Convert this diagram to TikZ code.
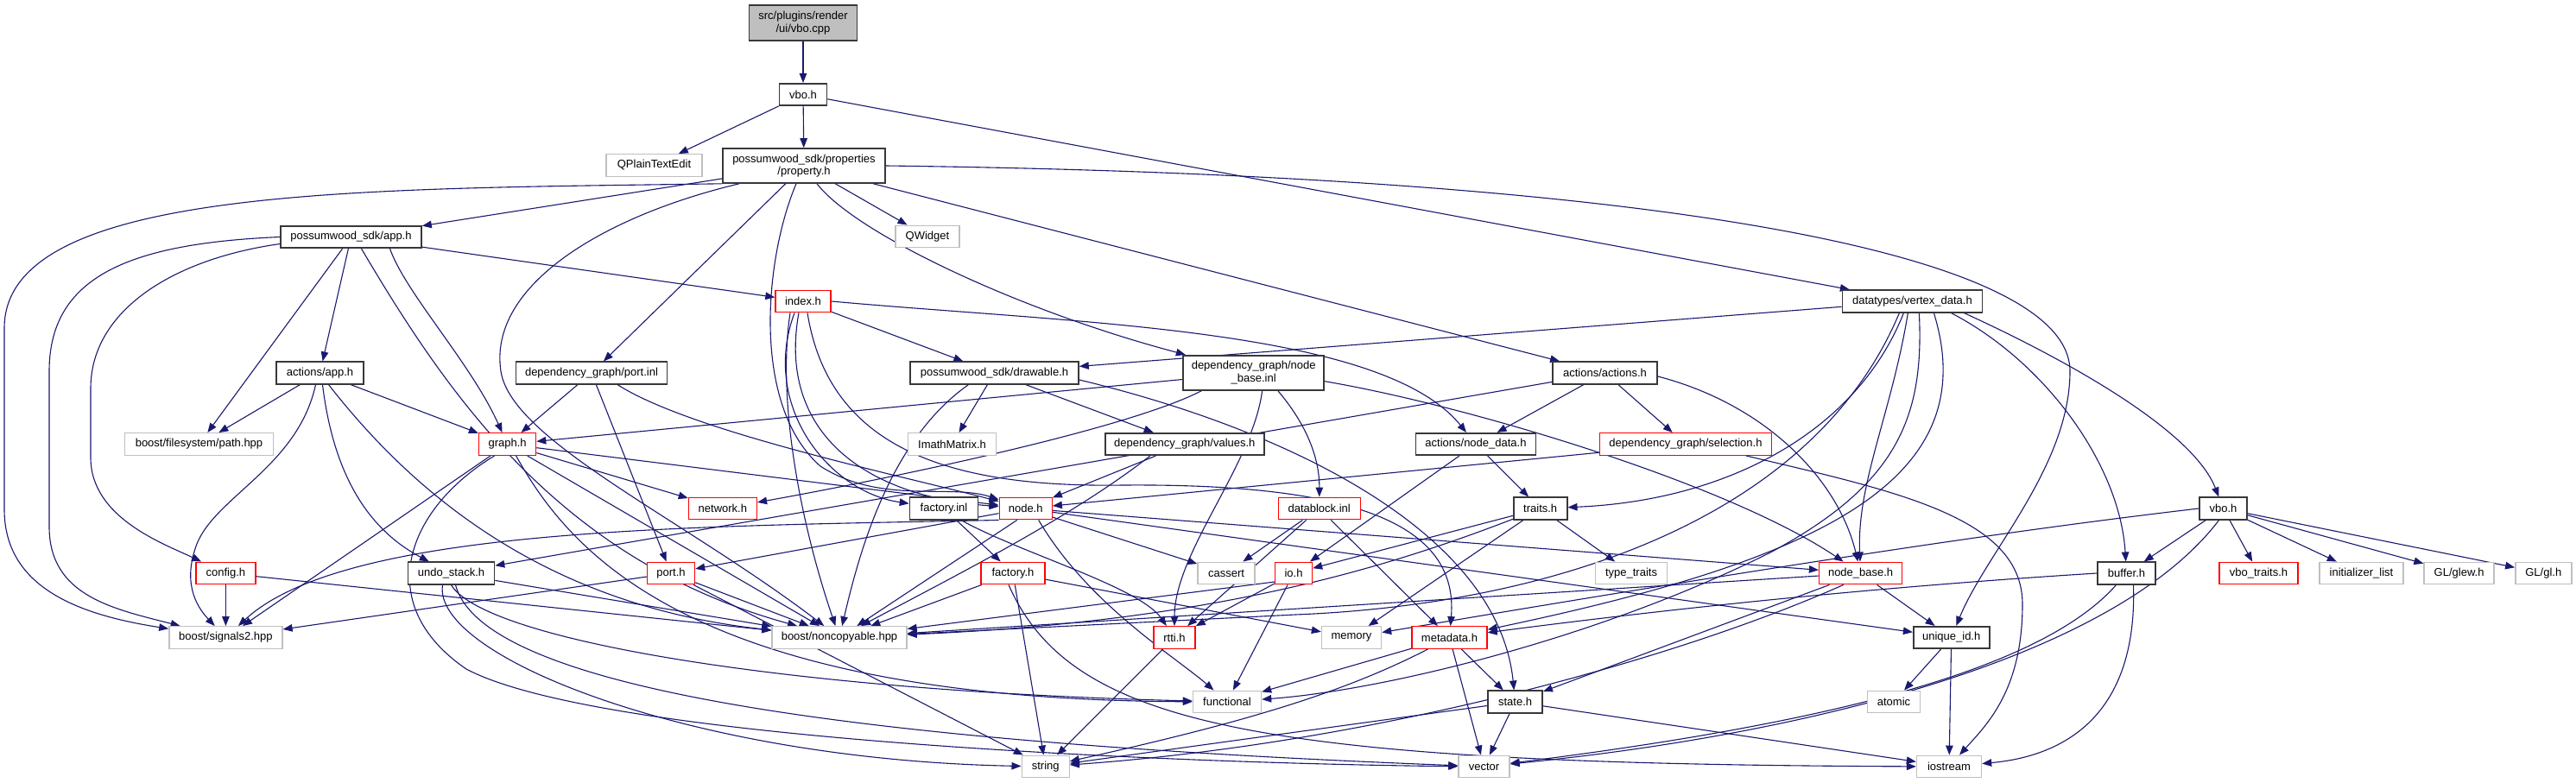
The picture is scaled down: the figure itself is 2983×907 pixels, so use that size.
\documentclass[tikz,border=0pt]{standalone}
\usepackage{fontspec}
\setmainfont{Liberation Sans}
\usetikzlibrary{arrows.meta}
\definecolor{edgec}{HTML}{191970}
\definecolor{extc}{HTML}{BFBFBF}
\pgfdeclarelayer{bg}
\pgfsetlayers{bg,main}
\tikzset{
  nd/.style={draw=black!78, line width=1.6pt, fill=white, minimum height=25.5pt, inner sep=0pt, align=center, font=\fontsize{13}{14.5}\selectfont},
  ext/.style={nd, draw=extc, line width=1.4pt},
  trn/.style={nd, draw=red, line width=1.4pt},
  rootn/.style={nd, fill=extc},
  ed/.style={draw=edgec, line width=1.1pt, -{Triangle[length=11pt,width=8.5pt]}},
}
\begin{document}
\begin{tikzpicture}[x=1pt,y=-1pt]
\useasboundingbox (0,0) rectangle (2983,907);
% ---------------- nodes
\node[rootn, minimum width=125pt, minimum height=41pt] (vbocpp) at (930,26.5) {src/plugins/render\\/ui/vbo.cpp};
\node[nd, minimum width=55pt] (vboh) at (930,109.5) {vbo.h};
\node[ext, minimum width=111pt] (qplain) at (757.5,191.5) {QPlainTextEdit};
\node[nd, minimum width=188pt, minimum height=40pt] (prop) at (931,192) {possumwood\_sdk/properties\\/property.h};
\node[ext, minimum width=74pt] (qwidget) at (1074,274) {QWidget};
\node[nd, minimum width=163pt] (app) at (406.5,274.5) {possumwood\_sdk/app.h};
\node[nd, minimum width=162pt] (vdata) at (2214.4,349) {datatypes/vertex\_data.h};
\node[trn, minimum width=64pt] (index) at (930,349) {index.h};
\node[nd, minimum width=101pt] (aapp) at (370.5,432) {actions/app.h};
\node[nd, minimum width=175pt] (portinl) at (685,432) {dependency\_graph/port.inl};
\node[nd, minimum width=195pt] (draw) at (1151.5,432) {possumwood\_sdk/drawable.h};
\node[nd, minimum width=163pt, minimum height=40pt] (nbinl) at (1451.7,431.7) {dependency\_graph/node\\\_base.inl};
\node[nd, minimum width=121pt] (actions) at (1858.5,432) {actions/actions.h};
\node[ext, minimum width=172pt] (path) at (230.5,514.5) {boost/filesystem/path.hpp};
\node[trn, minimum width=66pt] (graph) at (587.6,514.5) {graph.h};
\node[ext, minimum width=102pt] (imath) at (1102.5,514.5) {ImathMatrix.h};
\node[nd, minimum width=184pt] (values) at (1371.8,514.5) {dependency\_graph/values.h};
\node[nd, minimum width=139pt] (nodedata) at (1709,514.5) {actions/node\_data.h};
\node[trn, minimum width=199pt] (selection) at (1952,514.5) {dependency\_graph/selection.h};
\node[trn, minimum width=79pt] (network) at (836.9,589) {network.h};
\node[nd, minimum width=79pt] (factinl) at (1093,589) {factory.inl};
\node[trn, minimum width=61pt] (node) at (1187.7,589) {node.h};
\node[trn, minimum width=95pt] (datablock) at (1527.7,589) {datablock.inl};
\node[nd, minimum width=62pt] (traits) at (1783.7,589) {traits.h};
\node[nd, minimum width=55pt] (vbo2) at (2574.5,589) {vbo.h};
\node[trn, minimum width=69pt] (config) at (261.4,664) {config.h};
\node[nd, minimum width=100pt] (undo) at (522.5,664) {undo\_stack.h};
\node[trn, minimum width=55pt] (porth) at (777,664) {port.h};
\node[trn, minimum width=74pt] (facth) at (1173,664) {factory.h};
\node[ext, minimum width=66pt] (cassert) at (1420,664) {cassert};
\node[trn, minimum width=43pt] (io) at (1498,664) {io.h};
\node[ext, minimum width=83pt] (ttraits) at (1889,664) {type\_traits};
\node[trn, minimum width=96pt] (nbh) at (2154.6,664) {node\_base.h};
\node[nd, minimum width=67pt] (buffer) at (2462.5,664) {buffer.h};
\node[trn, minimum width=91pt] (vbotraits) at (2615.5,664) {vbo\_traits.h};
\node[ext, minimum width=97pt] (initlist) at (2734.5,664) {initializer\_list};
\node[ext, minimum width=81pt] (glew) at (2847.6,664) {GL/glew.h};
\node[ext, minimum width=65pt] (gl) at (2945.3,664) {GL/gl.h};
\node[ext, minimum width=131pt] (signals) at (261.4,738.5) {boost/signals2.hpp};
\node[ext, minimum width=156pt] (noncopy) at (972,738.5) {boost/noncopyable.hpp};
\node[trn, minimum width=48pt] (rtti) at (1360,738.5) {rtti.h};
\node[ext, minimum width=69pt] (memory) at (1565,738.5) {memory};
\node[trn, minimum width=87pt] (metadata) at (1678.5,738.5) {metadata.h};
\node[nd, minimum width=88pt] (uid) at (2259.7,738.5) {unique\_id.h};
\node[ext, minimum width=79pt] (functional) at (1421,813) {functional};
\node[nd, minimum width=63pt] (state) at (1754.6,813) {state.h};
\node[ext, minimum width=61pt] (atomic) at (2193,813) {atomic};
\node[ext, minimum width=55pt] (string) at (1210.7,888) {string};
\node[ext, minimum width=59pt] (vector) at (1718.5,888) {vector};
\node[ext, minimum width=75pt] (iostream) at (2257,888) {iostream};
% ---------------- edges
\begin{pgfonlayer}{bg}
\fill[white] (0,0) rectangle (2983,907);
% vbo.cpp / vbo.h
\draw[ed] (vbocpp) -- (vboh);
\draw[ed] (vboh) -- (qplain);
\draw[ed] (vboh) -- (prop);
\draw[ed] (vboh) -- (vdata);
% property.h
\draw[ed] (prop) -- (qwidget);
\draw[ed] (prop) -- (app);
\draw[ed] (prop.south west) .. controls (420,219) and (5,215) .. (5,380) -- (5,590) .. controls (5,680) and (90,712) .. (signals);
\draw[ed] (prop.east) .. controls (1900,203) and (2397,290) .. (2397,430) .. controls (2397,540) and (2300,640) .. (uid);
\draw[ed] (prop) -- (portinl);
\draw[ed] ([xshift=-9pt]prop.south) .. controls (885,300) and (870,470) .. (950,540) .. controls (1020,585) and (1100,560) .. (node);
\draw[ed] ([xshift=15pt]prop.south) .. controls (990,270) and (1180,360) .. (nbinl);
\draw[ed] (prop) -- (actions);
\draw[ed] ([xshift=-75pt]prop.south) .. controls (700,250) and (565,330) .. (580,430) .. controls (592,510) and (790,600) .. (noncopy);
% app.h
\draw[ed] (app) -- (index);
\draw[ed] (app) -- (aapp);
\draw[ed] (app) -- (path);
\draw[ed] ([xshift=45pt]app.south) .. controls (470,340) and (545,420) .. (graph);
\draw[ed] ([xshift=12pt]app.south) .. controls (520,460) and (650,650) .. (noncopy);
\draw[ed] (app.west) .. controls (150,282) and (57,320) .. (57,430) -- (57,610) .. controls (57,690) and (130,705) .. (signals);
\draw[ed] ([yshift=-8pt]app.west) .. controls (200,300) and (105,360) .. (105,450) -- (105,530) .. controls (105,600) and (190,630) .. (config);
% actions/app.h
\draw[ed] (aapp) -- (path);
\draw[ed] (aapp) -- (graph);
\draw[ed] ([xshift=-5pt]aapp.south) .. controls (345,540) and (250,575) .. (228,630) .. controls (212,672) and (225,700) .. (signals);
\draw[ed] ([xshift=3pt]aapp.south) .. controls (385,540) and (420,610) .. (undo);
\draw[ed] ([xshift=10pt]aapp.south) .. controls (470,560) and (620,700) .. (noncopy);
% port.inl
\draw[ed] (portinl) -- (graph);
\draw[ed] (portinl) -- (porth);
\draw[ed] ([xshift=30pt]portinl.south) .. controls (800,500) and (1040,550) .. (node);
% graph.h
\draw[ed] (graph) -- (signals);
\draw[ed] (graph) -- (noncopy);
\draw[ed] (graph) -- (network);
\draw[ed] (graph) -- (node);
\draw[ed] ([xshift=-15pt]graph.south) .. controls (470,590) and (430,700) .. (540,775) .. controls (700,860) and (1400,885) .. (vector);
\draw[ed] ([xshift=10pt]graph.south) .. controls (660,640) and (800,810) .. (functional);
% undo_stack.h
\draw[ed] (undo) -- (noncopy);
\draw[ed] ([xshift=-10pt]undo.south) .. controls (500,760) and (800,880) .. (string);
\draw[ed] (undo.south) .. controls (560,740) and (900,800) .. (functional);
\draw[ed] ([xshift=5pt]undo.south) .. controls (560,800) and (1000,860) .. (vector);
% port.h
\draw[ed] (porth) -- (signals);
\draw[ed] (porth) -- (noncopy);
\draw[ed] (porth) -- (string);
% index.h
\draw[ed] (index) -- (draw);
\draw[ed] (index.east) .. controls (1250,375) and (1600,380) .. (nodedata);
\draw[ed] ([xshift=-10pt]index.south) .. controls (880,470) and (960,570) .. (factinl);
\draw[ed] ([xshift=-5pt]index.south) .. controls (900,500) and (1000,575) .. (node);
\draw[ed] ([xshift=-15pt]index.south) .. controls (900,460) and (925,600) .. (noncopy);
\draw[ed] ([xshift=5pt]index.south) .. controls (960,520) and (1100,565) .. (1300,562) .. controls (1550,560) and (1690,600) .. (metadata);
% drawable.h
\draw[ed] (draw) -- (imath);
\draw[ed] (draw) -- (values);
\draw[ed] ([xshift=-30pt]draw.south) .. controls (1030,510) and (995,640) .. (noncopy);
\draw[ed] ([yshift=-8pt]draw.east) .. controls (1500,500) and (1735,620) .. (state);
% node_base.inl
\draw[ed] (nbinl) -- (graph);
\draw[ed] ([xshift=-60pt]nbinl.south) .. controls (1300,500) and (1000,560) .. (network);
\draw[ed] ([xshift=28pt]nbinl.south) .. controls (1520,500) and (1528,540) .. (datablock);
\draw[ed] ([xshift=10pt]nbinl.south) .. controls (1450,540) and (1360,640) .. (rtti);
\draw[ed] ([yshift=-10pt]nbinl.east) .. controls (1700,470) and (2000,560) .. (nbh);
% actions.h
\draw[ed] (actions) -- (nodedata);
\draw[ed] (actions) -- (selection);
\draw[ed] (actions) -- (undo);
\draw[ed] ([yshift=-4pt]actions.east) .. controls (2050,470) and (2130,560) .. (nbh);
% values.h
\draw[ed] (values) -- (node);
\draw[ed] ([xshift=-40pt]values.south) .. controls (1240,600) and (1100,670) .. (noncopy);
% node_data.h
\draw[ed] (nodedata) -- (traits);
\draw[ed] (nodedata) -- (io);
% selection.h
\draw[ed] (selection) -- (node);
\draw[ed] ([xshift=70pt]selection.south) .. controls (2200,570) and (2342,600) .. (2342,700) .. controls (2342,800) and (2300,840) .. (iostream);
% factory.inl
\draw[ed] (factinl) -- (facth);
\draw[ed] ([xshift=20pt]factinl.south) .. controls (1180,640) and (1320,680) .. (rtti);
% node.h
\draw[ed] (node) -- (porth);
\draw[ed] (node.south west) .. controls (800,610) and (400,610) .. (signals);
\draw[ed] ([xshift=-10pt]node.south) -- (noncopy);
\draw[ed] (node) -- (cassert);
\draw[ed] ([xshift=15pt]node.south) .. controls (1260,700) and (1360,760) .. (functional);
\draw[ed] (node) -- (nbh);
\draw[ed] (node) -- (uid);
% datablock.inl
\draw[ed] (datablock) -- (cassert);
\draw[ed] (datablock) -- (metadata);
\draw[ed] (datablock) -- (rtti);
% traits.h
\draw[ed] (traits) -- (ttraits);
\draw[ed] (traits) -- (io);
\draw[ed] (traits) -- (memory);
\draw[ed] (traits) .. controls (1600,660) and (1400,720) .. (noncopy);
% vertex_data.h
\draw[ed] (vdata) -- (draw);
\draw[ed] ([xshift=-10pt]vdata.south) .. controls (2150,500) and (2000,580) .. (traits);
\draw[ed] ([xshift=60pt]vdata.south) .. controls (2400,420) and (2540,500) .. (vbo2);
\draw[ed] ([xshift=45pt]vdata.south) .. controls (2370,420) and (2455,540) .. (buffer);
\draw[ed] ([xshift=-5pt]vdata.south) .. controls (2190,480) and (2150,560) .. (nbh);
\draw[ed] ([xshift=-15pt]vdata.south) .. controls (2100,600) and (1800,700) .. (1500,712) -- (noncopy);
\draw[ed] ([xshift=25pt]vdata.south) .. controls (2300,560) and (2100,650) .. (metadata);
\draw[ed] ([xshift=8pt]vdata.south) .. controls (2228,480) and (2200,560) .. (2050,640) .. controls (1850,740) and (1600,800) .. (functional);
% vbo.h (render)
\draw[ed] (vbo2) -- (buffer);
\draw[ed] (vbo2) -- (vbotraits);
\draw[ed] (vbo2) -- (initlist);
\draw[ed] (vbo2) -- (glew);
\draw[ed] (vbo2) -- (gl);
\draw[ed] (vbo2.west) .. controls (2350,612) and (2100,648) .. (memory);
\draw[ed] ([xshift=-5pt]vbo2.south) .. controls (2450,760) and (2100,850) .. (vector);
% buffer.h
\draw[ed] (buffer.west) .. controls (2300,672) and (2050,690) .. (metadata);
\draw[ed] ([xshift=-12pt]buffer.south) .. controls (2360,780) and (2100,840) .. (vector);
\draw[ed] ([xshift=8pt]buffer.south) .. controls (2475,820) and (2400,875) .. (iostream);
% io.h
\draw[ed] (io) -- (rtti);
\draw[ed] ([yshift=-10pt]io.west) -- (noncopy);
\draw[ed] (io) -- (functional);
% node_base.h
\draw[ed] (nbh) -- (noncopy);
\draw[ed] (nbh) -- (state);
\draw[ed] (nbh) -- (uid);
\draw[ed] ([xshift=-20pt]nbh.south) .. controls (1950,760) and (1600,860) .. (string);
% metadata.h
\draw[ed] (metadata) -- (state);
\draw[ed] (metadata) -- (vector);
\draw[ed] (metadata) -- (functional);
\draw[ed] ([xshift=-25pt]metadata.south) .. controls (1560,800) and (1450,835) .. (string);
% state.h
\draw[ed] (state) -- (vector);
\draw[ed] (state) -- (string);
\draw[ed] (state) -- (iostream);
% unique_id.h
\draw[ed] (uid) -- (atomic);
\draw[ed] (uid) -- (iostream);
% rtti.h
\draw[ed] (rtti) -- (string);
% factory.h
\draw[ed] (facth) -- (noncopy);
\draw[ed] (facth) -- (string);
\draw[ed] (facth) -- (memory);
\draw[ed] ([xshift=-5pt]facth.south) .. controls (1240,840) and (1450,885) .. (iostream);
% config.h
\draw[ed] (config) -- (signals);
\draw[ed] (config) -- (noncopy);
\end{pgfonlayer}
\end{tikzpicture}
\end{document}
